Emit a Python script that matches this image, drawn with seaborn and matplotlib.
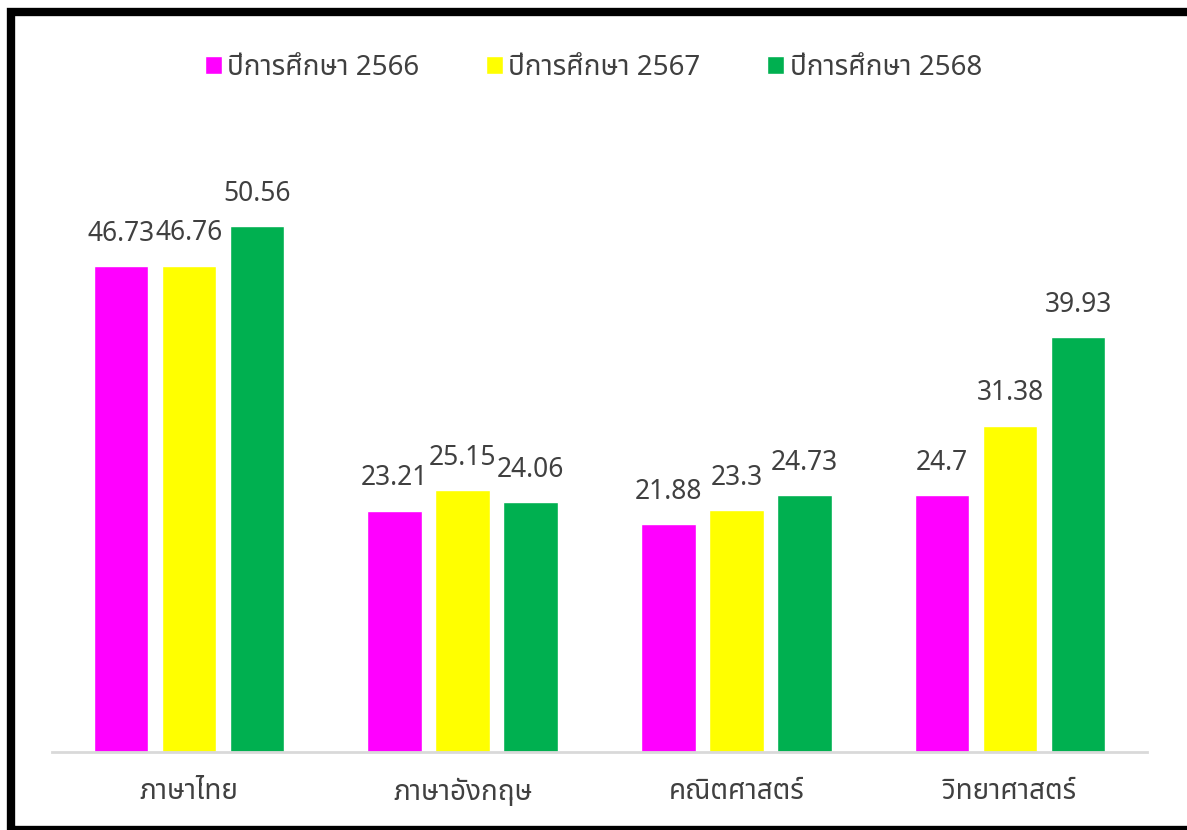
import matplotlib.pyplot as plt
import seaborn as sns
import pandas as pd
from matplotlib.patches import Rectangle

subjects = ["ภาษาไทย", "ภาษาอังกฤษ", "คณิตศาสตร์", "วิทยาศาสตร์"]
years = ["ปีการศึกษา 2566", "ปีการศึกษา 2567", "ปีการศึกษา 2568"]
score_2566 = [46.73, 23.21, 21.88, 24.7]
score_2567 = [46.76, 25.15, 23.3, 31.38]
score_2568 = [50.56, 24.06, 24.73, 39.93]
colors = ["#FF00FF", "#FFFF00", "#00B050"]

rows = []
for yr, vals in zip(years, [score_2566, score_2567, score_2568]):
    for s, v in zip(subjects, vals):
        rows.append({"วิชา": s, "ปี": yr, "คะแนน": v})
df = pd.DataFrame(rows)

sns.set_style("white")
plt.rcParams['font.family'] = ['Noto Sans Thai', 'DejaVu Sans']

fig = plt.figure(figsize=(11.87, 8.30), dpi=100)
ax = fig.add_axes([0.0438, 0.094, 0.9225, 0.752])

sns.barplot(data=df, x="วิชา", y="คะแนน", hue="ปี", palette=colors,
            saturation=1, width=0.745, gap=0.2, ax=ax, legend=True)

# ป้ายค่าบนแท่ง
for cont in ax.containers:
    ax.bar_label(cont, labels=[f"{v:g}" for v in cont.datavalues],
                 padding=13, fontsize=19, color="#404040")

ax.set_ylim(0, 60)
ax.set_xlim(-0.5, 3.5)
ax.set_xlabel("")
ax.set_ylabel("")
ax.set_yticks([])
ax.tick_params(axis="x", length=0, labelsize=20, labelcolor="#404040", pad=19)
for sp in ["top", "left", "right"]:
    ax.spines[sp].set_visible(False)
ax.spines["bottom"].set_color("#D9D9D9")
ax.spines["bottom"].set_linewidth(2)

handles, labels = ax.get_legend_handles_labels()
ax.legend(handles, labels, loc="center", bbox_to_anchor=(0.5, 0.918),
          bbox_transform=fig.transFigure, ncol=3, frameon=False,
          fontsize=20, labelcolor="#404040", handlelength=0.6, handleheight=0.6,
          handletextpad=0.2, columnspacing=2.4)

# กรอบดำรอบภาพ
fig.patches.append(Rectangle((11 / 1187, 0), 1 - 11 / 1187 + 0.01, 1 - 12 / 830,
                             transform=fig.transFigure, fill=False,
                             edgecolor="black", linewidth=6, figure=fig))

fig.savefig("out.png", dpi=100)
